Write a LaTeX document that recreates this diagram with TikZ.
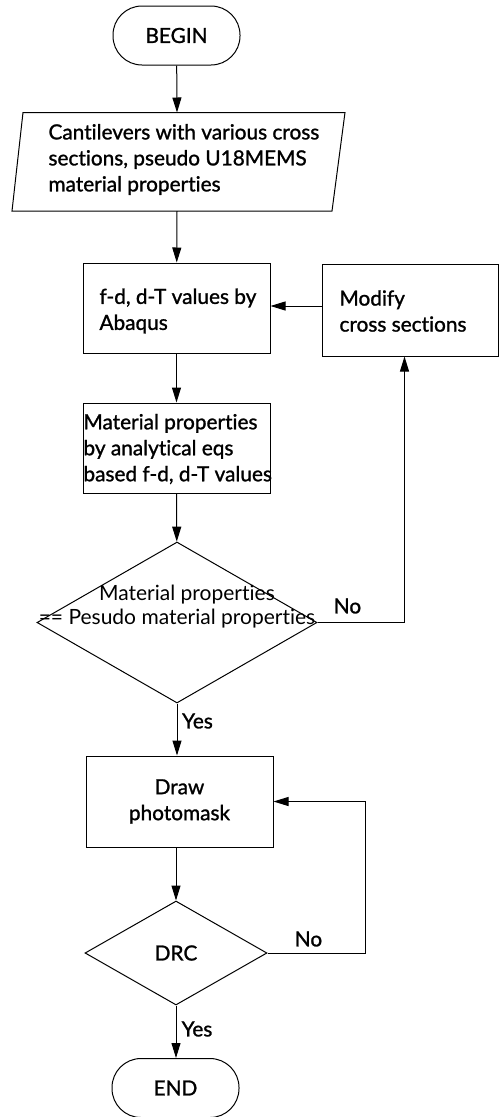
\documentclass[tikz,border=0pt]{standalone}
\usepackage{fontspec}
\setmainfont{Lato}[Ligatures=NoCommon, BoldFont=Lato, BoldFeatures={FakeBold=1.2}]
\usetikzlibrary{arrows.meta,shapes.geometric}
\begin{document}
\begin{tikzpicture}[x=1pt,y=-1pt,
  line width=1pt,
  font=\fontsize{20.8}{26}\selectfont\bfseries,
  box/.style={draw, rectangle, inner sep=0pt},
  term/.style={draw, rectangle, rounded corners=29pt, minimum width=127pt, minimum height=59pt, inner sep=0pt},
  dec/.style={draw, diamond, inner sep=0pt},
  txt/.style={inner sep=0pt},
  arr/.style={-{Triangle[length=15pt,width=9pt]}}
]
\useasboundingbox (0,0) rectangle (499,1117);

% BEGIN
\node[term] (begin) at (176.5,35.5) {BEGIN};

% parallelogram (input)
\coordinate (pTop) at (177,112.5);
\coordinate (pBot) at (177,211);
\draw (23,112.5) -- (345,112.5) -- (332,211) -- (12,211) -- cycle;
\node[txt, anchor=west, align=left] (ptext) at (48,159.5)
  {Cantilevers with various cross\\sections, pseudo U18MEMS\\material properties};

% f-d box
\node[box, minimum width=187pt, minimum height=90pt] (fbox) at (176.5,308) {};
\node[txt, anchor=west, align=left] (ftext) at (99,311) {f-d, d-T values by\\Abaqus};

% modify box
\node[box, minimum width=176pt, minimum height=92pt] (modbox) at (410,310) {};
\node[txt, anchor=west, align=left] (modtext) at (339,311) {Modify\\cross sections};

% material box
\node[box, minimum width=187pt, minimum height=90pt] (mbox) at (176.5,448) {};
\node[txt, anchor=west, align=left] (mtext) at (83,449)
  {Material properties\\by analytical eqs\\based f-d, d-T values};

% decision 1
\node[dec, minimum width=280pt, minimum height=161pt] (d1) at (177,622.5) {};
\node[txt, align=center, font=\fontsize{21}{24}\selectfont] (d1text) at (177,606.5)
  {\hspace*{20pt}Material properties\\== Pesudo material properties};

% draw photomask
\node[box, minimum width=187pt, minimum height=91pt, align=center] (dbox) at (179.5,801.5) {Draw\\photomask};

% decision 2
\node[dec, minimum width=182pt, minimum height=104pt] (d2) at (176,953) {DRC};

% END
\node[term] (end) at (175.5,1088) {END};

% labels
\node[txt] (no1) at (347.5,606) {No};
\node[txt] (yes1) at (197.5,721) {Yes};
\node[txt] (no2) at (308.5,939) {No};
\node[txt] (yes2) at (197,1029) {Yes};

% connectors
\coordinate (c1) at (404.5,622.5);
\coordinate (c2) at (365,953);
\draw[arr] (begin) -- (pTop);
\draw[arr] (pBot) -- (fbox);
\draw[arr] ([yshift=4pt]modbox.west) -- ([yshift=4pt]modbox.west -| fbox.east);
\draw[arr] (fbox) -- (mbox);
\draw[arr] (mbox) -- (d1);
\draw[arr] (d1.east) -- (c1) -- (c1 |- modbox.south);
\draw[arr] (d1.south) -- (d1.south |- dbox.north);
\draw[arr] (d2.north |- dbox.south) -- (d2.north);
\draw[arr] (d2.east) -- (c2) -- (c2 |- dbox.east) -- (dbox.east);
\draw[arr] (d2.south) -- (d2.south |- end.north);
\end{tikzpicture}
\end{document}
